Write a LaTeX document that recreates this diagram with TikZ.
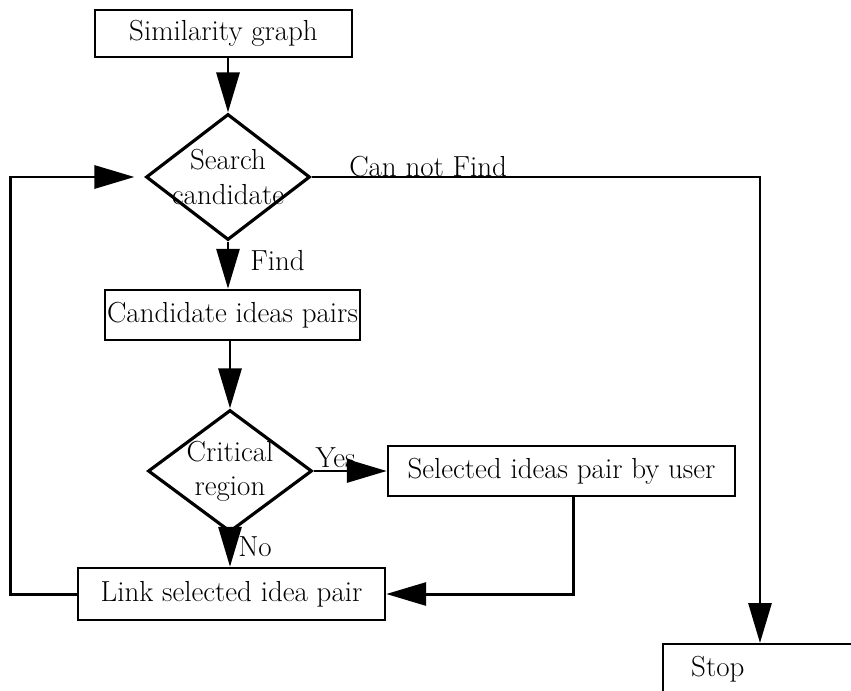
\documentclass[tikz,border=0pt]{standalone}
\usepackage{tikz}
\usetikzlibrary{shapes.geometric, arrows.meta, positioning, calc}
\tikzset{
  box/.style={rectangle, draw=black, fill=white, inner sep=0pt,
    minimum height=1cm, line width=1.4pt},
  decision/.style={diamond, draw=black, fill=white, inner sep=0pt,
    line width=1.8pt},
  arrow/.style={-{Triangle[length=0.8cm, width=0.46cm]}, line width=1.7pt, color=black},
  line/.style={line width=1.7pt, color=black}
}

\begin{document}
\begin{tikzpicture}[font=\fontsize{16.5}{19.5}\selectfont]
  \useasboundingbox (0,0) rectangle (17.02,-13.82);

  \node[box, minimum width=5.14cm, minimum height=0.94cm] (sim) at (4.47,-0.67) {Similarity graph};
  \node[decision, minimum width=3.28cm, minimum height=2.52cm,
    label={[align=center, inner sep=0pt]center:Search\\candidate}] (search) at (4.56,-3.54) {};
  \node[box, minimum width=5.1cm] (cand) at (4.65,-6.3) {Candidate ideas pairs};
  \node[decision, minimum width=3.28cm, minimum height=2.44cm,
    label={[align=center, inner sep=0pt]center:Critical\\region}] (crit) at (4.6,-9.42) {};
  \node[box, minimum width=6.94cm] (sel) at (11.23,-9.42) {Selected ideas pair by user};
  \node[box, minimum width=6.14cm, minimum height=1.04cm] (link) at (4.63,-11.88) {Link selected idea pair};
  \node[box, anchor=north west, text width=4cm, align=left, inner xsep=0.56cm] (stop) at (13.24,-12.86) {Stop};

  \draw[arrow] (sim.south -| search) -- (search.north);
  \draw[arrow] (search.south) -- node[right, xshift=0.3cm, yshift=0.1cm] {Find} (search.south |- cand.north);
  \draw[arrow] (cand.south -| crit) -- (crit.north);
  \draw[arrow] (crit.east) -- node[above, pos=0.3, inner sep=1pt] {Yes} (sel.west);
  \draw[arrow] (crit.south) -- node[right, inner sep=1pt, pos=0.4, xshift=0.1cm] {No} (crit.south |- link.north);
  \draw[arrow] ($(sel.south)+(0.24,0)$) |- (link.east);
  \draw[arrow, shorten >=0.2cm] (link.west) -- ++(-1.32,0) |- (search.west);
  \draw[arrow] (search.east) -| node[above, pos=0.13, inner sep=0pt, yshift=-1pt] {Can not Find} ($(stop.north west)+(1.96,0)$);
\end{tikzpicture}
\end{document}
